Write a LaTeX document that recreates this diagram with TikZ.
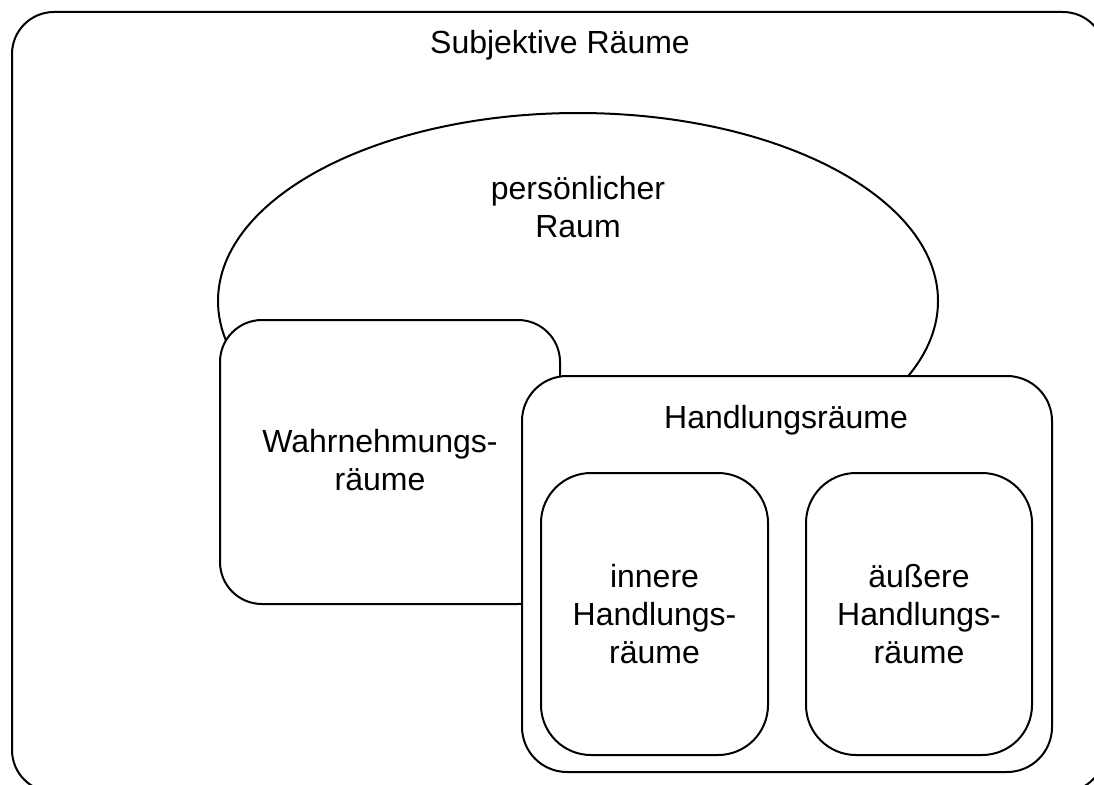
\documentclass[tikz,border=0pt]{standalone}
\usepackage{fontspec}
\setmainfont{Liberation Sans}
\usetikzlibrary{shapes.geometric}
\begin{document}
\begin{tikzpicture}[x=1pt,y=-1pt,
  every node/.style={font=\fontsize{32}{38}\selectfont},
  box/.style={draw=black,line width=2pt,fill=white,inner sep=0pt,rounded corners=#1},
  box/.default=45pt,
  lbl/.style={align=center,inner sep=0pt}]
\useasboundingbox (0,0) rectangle (1094,784);
\node[box=42pt,minimum width=1093pt,minimum height=780pt] (outer) at (558.5,402) {};
\node[lbl] (title) at (560,45) {Subjektive Räume};
\node[draw=black,line width=2pt,fill=white,ellipse,inner sep=0pt,minimum width=720pt,minimum height=376pt] (pers) at (578,301) {};
\node[lbl] (perslbl) at (578,207) {persönlicher\\Raum};
\node[box=42pt,minimum width=340pt,minimum height=284pt] (wahr) at (390,462) {};
\node[lbl] (wahrlbl) at (380,460) {Wahrnehmungs-\\räume};
\node[box=45pt,minimum width=530pt,minimum height=396pt] (hand) at (787,574) {};
\node[lbl] (handlbl) at (786,420) {Handlungsräume};
\node[box=50pt,minimum width=227pt,minimum height=282pt,lbl] (inner) at (654.5,614) {innere\\Handlungs-\\räume};
\node[box=50pt,minimum width=226pt,minimum height=282pt,lbl] (aussen) at (919,614) {äußere\\Handlungs-\\räume};
\end{tikzpicture}
\end{document}
